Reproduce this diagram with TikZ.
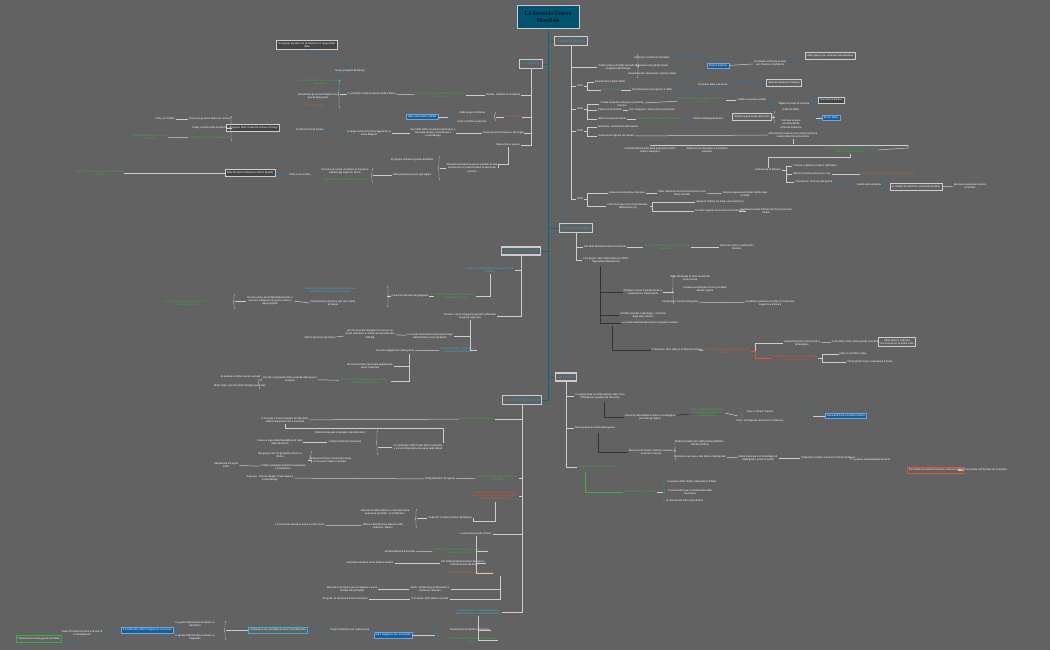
\documentclass[tikz,border=0pt]{standalone}
\usepackage{fontspec}
\setmainfont{Liberation Sans}
\newfontfamily\rootfont{Liberation Serif}
\usetikzlibrary{decorations.pathreplacing}
\definecolor{bg}{RGB}{98,98,98}
\definecolor{teal}{RGB}{0,84,112}
\definecolor{tealtx}{RGB}{40,150,195}
\definecolor{gtx}{RGB}{60,175,60}
\definecolor{rtx}{RGB}{225,85,45}
\definecolor{ctx}{RGB}{60,175,210}
\definecolor{bbox}{RGB}{16,96,168}
\definecolor{ln}{RGB}{205,205,205}
\definecolor{blc}{RGB}{40,110,155}
\tikzset{
 x=1pt,y=-1pt,
 every node/.style={inner sep=1pt,font=\fontsize{2.6}{3.1}\selectfont,align=center,text=white},
 g/.style={text=gtx},
 r/.style={text=rtx},
 c/.style={text=ctx},
 root/.style={fill=teal,draw=ln,line width=1pt,text=black,font=\rootfont\fontsize{6}{7}\selectfont,minimum width=62pt,minimum height=23pt},
 topic/.style={draw=ln,line width=1.1pt,fill=bg,text=tealtx,font=\fontsize{4}{4.6}\selectfont,inner sep=2.5pt},
 bb/.style={fill=bbox,draw=ln!60!bbox,text=white,inner sep=1.6pt},
 db/.style={fill=bg!70!black,draw=ln,line width=0.6pt,inner sep=2pt},
 lb/.style={draw=ln,line width=0.6pt,inner sep=2pt},
 e/.style={draw=ln,line width=0.5pt},
 eb/.style={draw=black!80,line width=0.6pt},
 sp/.style={draw=teal!80!ctx,line width=0.9pt},
 cu/.style={draw=blc,line width=0.5pt},
 br/.style={draw=ln,line width=0.4pt,decorate,decoration={brace,amplitude=2pt}},
}
\begin{document}
\begin{tikzpicture}
\fill[bg] (0,0) rectangle (1050,650);
\useasboundingbox (0,0) rectangle (1050,650);
% spine first
\coordinate (s) at (548,400);
\draw[sp] (548,28) -- (s) -- (508,400);
\draw[sp] (548,41) -- (560,41);
\draw[sp] (548,64) -- (535,64);
\draw[sp] (548,228) -- (560,228);
\draw[sp] (548,251) -- (535,251);
\draw[sp] (548,377) -- (560,377);
% root and topics
\node[root] (root) at (548,17) {La Seconda Guerra\\Mondiale};
\node[topic] (T1) at (571,41) {Verso la guerra};
\node[topic] (T2) at (531,64) {La guerra};
\node[topic] (T3) at (576,228) {Guerra parallela};
\node[topic] (T4) at (521,251) {Guerra nel Pacifico};
\node[topic] (T5) at (566,377) {La svolta};
\node[topic] (T6) at (522,400) {La fine della guerra};

% ---------- Verso la guerra
\node (v1) at (618,67) {Politica estera di Hitler prevede la\\conquista dell'Europa};
\node (v1a) at (652,58) {Eliminare i trattati di Versailles};
\node (v1b) at (652,66) {Creazione del grande Reich};
\node (v1c) at (652,74) {Conquista del Lebensraum (spazio vitale)};
\node[bb] (v1d) at (718,66) {Riarmo tedesco};
\node (v1e) at (770,63) {Inevitabile confronto armato\\con Francia e Inghilterra};
\node[lb] (v1f) at (830,56) {Hitler agisce con continue rivendicazioni};
\node (y35) at (580,86) {1935};
\node (v2) at (610,82) {Riunificazione della SAAR};
\node[g] (v3) at (611,90) {Fronte di Stresa};
\node (v3a) at (652,90) {Coordinamento per opporsi a Hitler};
\node (v3b) at (713,85) {Cessione delle sue azioni};
\node[lb] (v3c) at (784,83) {Italia accusata per l'Etiopia};
\node (y36) at (580,109) {1936};
\node (v4) at (622,104) {L'Italia conquista l'Etiopia e proclama\\l'impero};
\node[g] (v4a) at (702,100) {Francia e Inghilterra condannano l'Italia:\\sanzioni};
\node (v4b) at (752,100) {L'Italia si avvicina a Hitler};
\node (v4c) at (794,104) {Siglato accordo di amicizia};
\node[db] (v4d) at (831,100) {Asse Roma-Berlino};
\node (v5) at (610,110) {Patto anti Comintern};
\node (v5a) at (652,110) {Con Giappone: lotta contro comunismo};
\node (v6) at (612,119) {Hitler occupa la Renania};
\node[g] (v6a) at (658,119) {Non reazione di Francia e Inghilterra};
\node (v6b) at (708,119) {Politica dell'appeasement};
\node[lb] (v6c) at (752,117) {Evitare la guerra ad ogni costo};
\node (v6d) at (791,110) {Rafforzò Hitler};
\node (v6e) at (791,124) {Fermare la pace\\accontentando\\richieste tedesche};
\node[bb] (v6f) at (831,118) {Errore fatale};
\node (y38) at (580,131) {1938};
\node (v7) at (618,127) {Anschluss: annessione dell'Austria};
\node (v8) at (616,136) {Annessione regione dei Sudeti};
\node (v8a) at (793,135) {Allineamento tedesco che chiese nell'area\\sudeti della Cecoslovacchia};
\node (v8b) at (650,150) {Inammissibili tra tutte della popolazione dell'\\impero asburgico};
\node (v8c) at (707,150) {Molte risorse minerarie e importanti\\industrie};
\node[g] (v8d) at (850,150) {Ciò causa un'escalation di tensione; rischio di\\guerra tra le due nazioni};
\node (v9) at (768,170) {Conferenza di Monaco};
\node (v9a) at (815,166) {Francia, Inghilterra, Italia e Germania};
\node (v9b) at (812,174) {Ma la Cecoslovacchia non c'era};
\node[r] (v9c) at (888,174) {Gesto di debolezza per tutti i paesi democratici};
\node (v9d) at (814,182) {Condizione: rinuncia alla guerra};
\node (v9e) at (869,185) {Sudeti alla Germania};
\node[lb] (v9f) at (916,187) {In cambio di una firma: promessa di Hitler};
\node (v9g) at (970,186) {Ignorava annessioni ulteriori\\di territori};
\node (y39) at (580,199) {1939};
\node (v10) at (627,193) {Annessione Boemia e Moravia};
\node (v10a) at (682,193) {Hitler trasforma la Cecoslovacchia in uno\\Stato vassallo};
\node (v10b) at (745,194) {Ascesa espansiva di Hitler nell'Europa\\centrale};
\node (v11) at (628,206) {Patto d'acciaio (Con Patto Molotov-\\Ribbentrop (2))};
\node (v11a) at (720,202) {Alleanza militare tra Italia e Germania (1)};
\node (v11b) at (720,211) {Accordo segreto tra Russia e Germania (2)};
\node (v11c) at (766,211) {Germania invade Polonia da Ovest e Russia\\da Est};
\draw[e] (T1.south) |- (v1.west); \draw[e] (T1.south) |- (y35.west); \draw[e] (T1.south) |- (y36.west);
\draw[e] (T1.south) |- (y38.west); \draw[e] (T1.south) |- (y39.west);
\draw[br] (637,54) -- (637,78); \draw[e] (v1.east) -- (637,66);
\draw[cu] (v1a.east) .. controls (705,55) .. (v1d.north west); \draw[cu] (v1c.east) .. controls (705,77) .. (v1d.south west);
\draw[e] (v1d) -- (v1e); \draw[cu] (v1e.east) .. controls (800,60) .. (v1f.south west);
\draw[e] (y35.east) -- ++(3,0) |- (v2.west); \draw[e] (y35.east) -- ++(3,0) |- (v3.west);
\draw[e] (v3) -- (v3a); \draw[cu] (v3a.east) .. controls (720,92) and (730,86) .. (v3b.east); \draw[cu] (v3b.east) .. controls (745,80) .. (v3c.west);
\draw[e] (y36.east) -- ++(3,0) |- (v4.west); \draw[e] (y36.east) -- ++(3,0) |- (v5.west); \draw[e] (y36.east) -- ++(3,0) |- (v6.west);
\draw[e] (v4) -- (v4a); \draw[e] (v4a) -- (v4b); \draw[cu] (v4b.east) .. controls (770,108) .. (v4c.west); \draw[cu] (v4c.east) .. controls (810,95) .. (v4d.north);
\draw[e] (v5) -- (v5a); \draw[e] (v6) -- (v6a); \draw[cu] (v6a.east) .. controls (690,125) .. (v6b.west); \draw[cu] (v6b.east) .. controls (725,118) .. (v6c.west);
\draw[br] (775,123) -- (775,111); \draw[e] (v6c.east) -- (775,117);
\draw[cu] (812,104) .. controls (818,110) and (818,126) .. (812,131); \draw[e] (816,118) -- (v6f.west);
\draw[e] (y38.east) -- ++(3,0) |- (v7.west); \draw[e] (y38.east) -- ++(3,0) |- (v8.west);
\draw[e] (v8.east) -- (v8a.west);
\draw[e] (v8a.south) -- ++(0,5);
\draw[e] (650,145) -- (908,145); \draw[e] (v8b.north) -- (650,145); \draw[e] (v8c.north) -- (707,145); \draw[e] (908,145) -- (908,148) -- (v8d.east);
\draw[e] (v8d.south) -- ++(0,3) -| (v9.north);
\draw[e] (v9.east) -- ++(4,0) |- (v9a.west); \draw[e] (v9.east) -- ++(4,0) |- (v9b.west); \draw[e] (v9.east) -- ++(4,0) |- (v9d.west);
\draw[e] (v9b) -- (v9c); \draw[cu] (v9d.east) .. controls (845,188) .. (v9e.west); \draw[cu] (v9e.east) .. controls (880,180) .. (v9f.north west); \draw[e] (v9f) -- (v9g);
\draw[e] (y39.east) -- ++(3,0) |- (v10.west); \draw[e] (y39.east) -- ++(3,0) |- (v11.west);
\draw[e] (v10) -- (v10a); \draw[e] (v10a) -- (v10b);
\draw[e] (v11.east) -- ++(3,0) |- (v11a.west); \draw[e] (v11.east) -- ++(3,0) |- (v11b.west); \draw[e] (v11b) -- (v11c);

% ---------- La guerra
\node (g1) at (503,95) {Polonia: obiettivo di invasione};
\node[g] (g1a) at (440,95) {Inghilterra e Francia dichiarano guerra alla\\Germania};
\node (g1b) at (372,94) {1 settembre 1939 invasione della Polonia};
\node[g] (g1c) at (320,82) {Mussolini dichiara la non belligeranza\\dell'Italia};
\node (g1d) at (318,96) {Nonostante gli accordi l'Italia non è\\pronta alla guerra};
\node[r] (g1e) at (315,106) {URSS neutrale};
\node (g1f) at (350,71) {Nuovo progetto Blitzkrieg};
\node[db] (g1g) at (307,45) {Si oppone al patto con la Polonia e lo ruppe Hitler\\Italia};
\node[r] (g2) at (513,117) {Guerra lampo};
\node (g2a) at (472,113) {Stallo lungo in Polonia};
\node (g2b) at (472,122) {Crani sacrificio sovietiche};
\node[bb] (g2c) at (422,117) {Hitler sottovaluta l'URSS};
\node (g3) at (503,133) {Invasione di Danimarca e Norvegia};
\node (g3a) at (433,133) {Nel 1940 Hitler conquista Danimarca e\\Norvegia, Belgio, Paesi Bassi e\\Lussemburgo};
\node (g3b) at (369,133) {Si dirige verso la Francia aggirando la\\Linea Maginot};
\node (g3c) at (310,130) {Direttiva il fronte Sedan};
\node[db] (g3d) at (253,128) {14 giugno 1940 i tedeschi entrano a Parigi};
\node (g3e) at (210,119) {Diviso un governo fantoccio nel sud};
\node (g3f) at (210,128) {Parigi a nome sotto il tedeschi};
\node[g] (g3g) at (210,138) {Guida del governo collaborazionista};
\node (g3h) at (165,119) {Vichy con Pétain};
\node[g] (g3i) at (150,137) {De Gaulle guida la resistenza\\da Londra};
\node (g4) at (508,145) {Italia entra in guerra};
\node (g4a) at (472,168) {Mussolini pensava la guerra sarebbe durata\\ancora poco e voleva sedere al tavolo dei\\vincitori};
\node (g4b) at (412,160) {10 giugno entrata in guerra dell'Italia};
\node (g4c) at (412,175) {Hitler proponeva pace agli inglesi};
\node (g4d) at (345,171) {Pensava di creare un impero in Europa e\\battere agli inglesi in Africa};
\node[g] (g4e) at (345,180) {L'Italia dipendeva dal sostegno tedesco};
\node (g4f) at (300,175) {Piano Luce mistico};
\node[db] (g4g) at (250,173) {Attacchi senza efficacia in Africa (Egitto)};
\node[g] (g4h) at (100,173) {Gli inglesi respingono gli attacchi italiani\\in Egitto};
\draw[e] (T2.south) |- (g1.east); \draw[e] (T2.south) |- (g2.east); \draw[e] (T2.south) |- (g3.east); \draw[e] (T2.south) |- (g4.east);
\draw[e] (g1) -- (g1a); \draw[e] (g1a) -- (g1b);
\draw[br] (340,108) -- (340,80); \draw[e] (g1b.west) -- (340,94);
\draw[cu] (g1b.north west) .. controls (330,80) .. (g1f.south); \draw[cu] (g1f.north) .. controls (340,60) and (320,55) .. (g1g.south);
\draw[br] (496,121) -- (496,112); \draw[e] (g2.west) -- (496,117);
\draw[cu] (452,110) .. controls (446,114) and (446,120) .. (452,125); \draw[e] (448,117) -- (g2c.east);
\draw[e] (g3) -- (g3a); \draw[e] (g3a) -- (g3b); \draw[cu] (g3b.west) .. controls (335,130) .. (g3c.east); \draw[cu] (g3c.west) .. controls (285,128) .. (g3d.east);
\draw[br] (232,141) -- (232,116); \draw[e] (g3d.west) -- (232,128);
\draw[e] (g3e) -- (g3h); \draw[e] (g3g) -- (g3i);
\draw[e] (g4.south) -- ++(0,17) -| (g4a.east);
\draw[br] (440,180) -- (440,156); \draw[e] (g4a.west) -- (440,168);
\draw[br] (373,183) -- (373,168); \draw[e] (g4c.west) -- (373,175);
\draw[cu] (g4e.west) .. controls (320,181) .. (g4f.east); \draw[cu] (g4f.west) .. controls (280,176) .. (g4g.east); \draw[e] (g4g) -- (g4h);

% ---------- Guerra parallela
\node (p1) at (605,247) {Nel 1940 Mussolini attacca la Grecia};
\node[g] (p1a) at (667,247) {Operazione fallita per l'esercito italiano;\\aiuti di Hitler};
\node (p1b) at (737,247) {Hitler interviene e sottomette i\\Balcani};
\node (p2) at (606,260) {Il 22 giugno 1941 Hitler attacca l'URSS:\\Operazione Barbarossa};
\node (p3) at (643,292) {Obiettivo creare il grande Reich e\\conquistare il Lebensraum};
\node (p3a) at (690,278) {Hitler sfruttando le forze sovietiche\\come risorse};
\node (p3b) at (705,289) {Puntava ad eliminare l'unico possibile\\alleato inglese};
\node (p3c) at (680,302) {Conquistare risorse strategiche};
\node (p3d) at (770,303) {Avrebbero permesso a Hitler di continuare\\la guerra a oltranza};
\node (p4) at (643,315) {Conflitto razziale e ideologico, sterminio\\degli slavi inferiori};
\node (p5) at (650,323) {Lo scontro dell'Armata rossa e il popolo sovietico};
\node (p6) at (677,350) {6 dicembre 1941 attacco di Mosca e Mosca};
\node[r] (p6a) at (725,351) {Gelo, l'esercito tedesco non era pronto per\\l'inverno};
\node (p6b) at (802,343) {I tedeschi persero rifornimenti e\\attrezzature};
\node (p6c) at (855,342) {A dicembre 1941 prima grande sconfitta};
\node[lb] (p6d) at (897,342) {Hitler attacca a Mosca\\che resiste per la prima volta};
\node[r] (p6e) at (795,358) {Nell'URSS un attacco di una leggenda\\e la grande resistenza};
\node (p6f) at (853,354) {Hitler è sconfitto e ritira};
\node (p6g) at (870,362) {Infiniti gli sforzi per conquistare il fronte};
\draw[e] (T3.south) |- (p1.west); \draw[e] (T3.south) |- (p2.west);
\draw[e] (p1) -- (p1a); \draw[e] (p1a) -- (p1b);
\draw[eb] (600,266) -- (600,323);
\draw[eb] (600,268) |- (p3.west); \draw[eb] (600,268) |- (p4.west); \draw[eb] (600,268) |- (p5.west);
\draw[eb] (612,326) |- (p6.west);
\draw[br] (674,304) -- (674,276); \draw[e] (p3.east) -- (674,292);
\draw[e] (p3c) -- (p3d);
\draw[e] (p6) -- (p6a);
\draw[e] (p6a.east) -- ++(4,0) |- (p6b.west); \draw[e, draw=rtx] (p6a.east) -- ++(4,0) |- (p6e.west);
\draw[e] (p6b) -- (p6c); \draw[e] (p6c) -- (p6d);
\draw[e] (p6e.east) -- ++(4,0) |- (p6f.west); \draw[e] (p6e.east) -- ++(4,0) |- (p6g.west);

% ---------- Pacifico
\node[c] (q1) at (490,270) {Giappone attua politica di espansione nel\\Pacifico};
\node[g] (q1a) at (455,296) {Stati Uniti sanzionano e prelevano\\il Giappone: petrolio};
\node (q1b) at (410,296) {Cause la reazione del giappone};
\node[c] (q1c) at (330,290) {7 dicembre 1941 bombardamento a sorpresa\\alla flotta americana a Pearl Harbor};
\node (q1d) at (333,303) {Dichiarazione di guerra agli Usa contro\\gli alleati};
\node (q1e) at (270,301) {Gli Usa erano usciti dall'isolazionismo e\\avevano intrapreso la guerra a fianco\\degli anglofili};
\node[g] (q1f) at (185,303) {Gli Usa entrano in guerra con armi e\\rifornimenti agli alleati};
\node (q2) at (470,316) {Tensioni: Usa e Giappone avevano affrontato\\la guerra negli Usa};
\node (q2a) at (430,336) {Le risorse statunitensi spostavano l'ago\\della bilancia verso gli alleati};
\node (q2b) at (370,334) {Gli Usa avevano bisogno di crescere un\\senso patriottico in modo da massimizzare\\l'attività};
\node (q2c) at (320,338) {Ultima speranza per l'Asse};
\node (q3) at (395,351) {Successi giapponesi nella guerra};
\node[c] (q3a) at (458,350) {Sconfitta Pacifico: i giapponesi\\conquistano molti territori};
\node (q3b) at (370,366) {Gli Usa fermano l'avanzata giapponese\\verso l'Australia};
\node[g] (q3c) at (365,381) {Gli Usa vincono la battaglia delle Midway e\\riconquistano il Pacifico};
\node (q3d) at (290,379) {Più che una guerra simile a quella della guerra\\europea};
\node (q3e) at (240,377) {Si basava su flotte navali e aeree};
\node (q3f) at (240,386) {Molte isole e piccoli atolli strategici particolari};
\draw[e] (T4.south) |- (q2.east);
\draw[e] (T4.south) |- (q1.east);
\draw[e] (q1.south) |- (q1a.east);
\draw[e] (q1a) -- (q1b);
\draw[br] (387,286) -- (387,307); \draw[e] (q1b.west) -- (387,296);
\draw[e] (q1d.west) -- (q1e.east);
\draw[br] (235,309) -- (235,294); \draw[e] (q1e.west) -- (235,301);
\draw[e] (q2.south) |- (q3a.east); \draw[e] (q2.south) |- (q2a.east);
\draw[e] (q2a) -- (q2b); \draw[e] (q2b) -- (q2c);
\draw[e] (q3a) -- (q3);
\draw[e] (409,354) -- (409,381) -- (q3c.east); \draw[e] (409,366) -- (q3b.east);
\draw[e] (q3c) -- (q3d);
\draw[br] (260,389) -- (260,375); \draw[e] (q3d.west) -- (260,381);

% ---------- La svolta
\node (s1) at (600,396) {A seguito delle sconfitte italiane Hitler invia\\l'Afrikakorps (guidato da Rommel)};
\node (s1a) at (650,417) {L'esercito italo-tedesco riesce a sconfiggere\\più volte gli inglesi};
\node[g] (s1b) at (707,413) {Presa di Alamein gli inglesi in\\Africa fermano i tedeschi e\\italiani in Egitto};
\node (s1c) at (760,412) {Asse si ritira in Tunisia};
\node (s1d) at (760,421) {Primo contingente americano in Marocco};
\node[bb] (s1e) at (846,416) {Resa dell'Asse sconfitta in Africa};
\node (s2) at (595,428) {Russia punto di svolta della guerra};
\node (s2a) at (651,452) {Nel corso di vittorie i tedeschi avevano\\esaurito le risorse};
\node (s2b) at (700,443) {Tedeschi attaccano dall'Ucraina ARMIR e\\Armata d'Africa};
\node (s2c) at (700,457) {Resistenza ai russi e alla fame a Stalingrado};
\node (s2d) at (758,458) {Morte intensiva con la battaglia di\\Stalingrado, punto di svolta};
\node (s2e) at (828,458) {I tedeschi uccidono e persero il fronte di Mosca};
\node (s2f) at (870,460) {Rivoluzione nella battaglia di Kursk};
\node[lb,draw=rtx] (s2g) at (935,470) {Tre milioni di sovietici morirono, vittoria russa};
\node (s2h) at (983,470) {Inizia l'avanzata dell'Armata verso Berlino};
\node[g] (s3) at (597,467) {Armistizio di Cassibile e Badoglio};
\node[g] (s3a) at (640,492) {Gli alleati sbarcano in Sicilia};
\node (s3b) at (692,482) {Invasione della Sicilia e liberazione d'Italia};
\node (s3c) at (690,492) {Si punta alla resa incondizionata della\\Germania};
\node (s3d) at (685,501) {Si discute del futuro post bellico};
\draw[e] (T5.south) |- (s1.west); \draw[e] (T5.south) |- (s2.west); \draw[e] (T5.south) |- (s3.west);
\draw[eb] (604,402) |- (s1a.west); \draw[eb] (s1a) -- (s1b);
\draw[br,draw=gtx] (740,407) -- (740,424) ; \draw[e] (s1b.east) -- (738,416);
\draw[cu] (810,407) .. controls (815,412) and (815,420) .. (810,425); \draw[e] (813,416) -- (s1e.west);
\draw[eb] (598,433) |- (s2a.west);
\draw[br] (676,460) -- (676,440); \draw[e] (s2a.east) -- (676,450);
\draw[e] (s2c) -- (s2d); \draw[e] (s2d) -- (s2e); \draw[cu] (s2e.east) .. controls (850,460) .. (s2f.west); \draw[cu] (s2f.east) .. controls (905,465) .. (s2g.north west); \draw[e] (s2g) -- (s2h);
\draw[e,draw=gtx] (585,472) |- (s3a.west);
\draw[br,draw=gtx] (663,479) -- (663,504); \draw[e] (s3a.east) -- (663,492);

% ---------- La fine
\node[g] (f1) at (477,419) {25 luglio caduta del fascismo};
\node (f1a) at (285,420) {Il 25 luglio il Gran Consiglio del fascismo\\sfiducia Mussolini che è arrestato};
\node (f2) at (418,447) {L'8 settembre 1943 l'Italia firma l'armistizio\\e inizia la liberazione da parte degli alleati};
\node (f2a) at (340,433) {Vittorio Emanuele e Badoglio alle dimissioni};
\node (f2b) at (345,442) {I tedeschi liberano Mussolini};
\node (f2c) at (280,442) {Nasce a capo della Repubblica di Salò\\Stato fantoccio};
\node (f2d) at (330,460) {I tedeschi formano composta nazista\\a occupare l'Italia e resistere};
\node (f2e) at (280,455) {Nel giugno del '44 gli alleati entrano a\\Roma};
\node (f2f) at (283,467) {In Italia i partigiani tedeschi resistevano\\e combattono};
\node (f2g) at (226,465) {Liberazione 25 aprile\\1945};
\node (f3) at (440,479) {Parigi liberata il 25 agosto};
\node (f3a) at (270,478) {Seguono: Francia, Belgio, Paesi Bassi e\\Lussemburgo};
\node[g] (f3b) at (497,478) {6 giugno 1944 gli alleati sbarcano in\\Normandia};
\node[r] (f4) at (495,496) {L'Armata Rossa respinge i tedeschi\\dall'Ucraina e dalla Polonia; Romania e\\Bulgaria cambiano fronte};
\node (f4a) at (450,518) {I tedeschi si ritirano anche dai Balcani};
\node (f4b) at (385,512) {Attentati di Hitler fallirono e l'Armata rossa\\avanzava per Hitler: era fallimento};
\node (f4c) at (383,526) {Ultima controffensiva tedesca nelle\\Ardenne: fallisce};
\node (f4d) at (300,525) {La Germania lavorava ormai su tutti i fronti};
\node (f5) at (476,534) {La Germania è allo stremo};
\node (f5a) at (400,552) {Bombardamenti di Dresda};
\node[g] (f5b) at (460,551) {Bombardamenti degli alleati su città tedesche,\\migliaia di vittime civili};
\node (f5c) at (370,563) {Avanzata sovietica verso Berlino dall'Est};
\node (f5d) at (463,563) {Dal 1945 gli alleati entrano da ovest e\\l'Armata Rossa da Est};
\node[r] (f5e) at (470,573) {Il 25 aprile la Resistenza libera Milano};
\node (f5f) at (352,589) {Mussolini non riesce più a scappare e viene\\fucilato dai partigiani};
\node (f5g) at (430,589) {Aprile: tentata fuga di Mussolini in\\Svizzera, catturato};
\node (f5h) at (345,599) {30 aprile: la Germania firma l'armistizio};
\node (f5i) at (430,599) {Il 30 aprile 1945 Hitler si suicida};
\node[c] (f6) at (478,612) {Il Giappone non si arrende alla resa\\della Germania e combatte nel Pacifico};
\node (f6a) at (470,630) {Nessuna forza resiste sul Pacifico};
\node[g] (f6b) at (472,640) {Gli Usa preparano l'invasione del Giappone\\via terra};
\node[bb] (f6c) at (393,635) {Ma il Giappone non si arrende};
\node (f6d) at (350,630) {Dopo Hiroshima non cede la resa};
\node[lb,draw=ctx] (f6e) at (278,630) {Continua a non accettare la resa incondizionata};
\node (f6f) at (195,624) {6 agosto 1945 bomba nucleare su\\Hiroshima};
\node (f6g) at (195,637) {9 agosto 1945 bomba nucleare su\\Nagasaki};
\node[bb] (f6h) at (147,630) {Il 2 settembre 1945 il Giappone si arrende};
\node (f6i) at (82,633) {Dopo 55 milioni di morti e la scia di\\sconvolgimenti};
\node[lb,draw=gtx] (f6j) at (39,639) {Finisce la seconda guerra mondiale};
\draw[e] (T6.south) |- (f1.east); \draw[e] (T6.south) |- (f3b.east); \draw[e] (T6.south) |- (f4.east);
\draw[e] (T6.south) |- (f5.east);
\draw[e] (T6.south) |- (f6.east);
\draw[e] (f1) -- (f1a); \draw[e] (f1a.south) -- ++(0,5) -| (f2.north east);
\draw[br] (378,455) -- (378,430); \draw[e] (f2.west) -- (378,447);
\draw[e] (f2b) -- (f2c);
\draw[br] (312,463) -- (312,451); \draw[e] (f2d.west) -- (312,460); \draw[e] (f2f) -- (f2g);
\draw[e] (f3b) -- (f3); \draw[e] (f3) -- (f3a);
\draw[e] (f4.south) -- ++(0,20) -| (f4a.east);
\draw[br] (417,528) -- (417,509); \draw[e] (f4a.west) -- (417,518); \draw[e] (f4c) -- (f4d);
\draw[e] (f5.south) |- (f5b.east); \draw[e] (f5.south) |- (f5d.east); \draw[e] (f5.south) |- (f5e.east);
\draw[e] (f5a) -- (f5b); \draw[e] (f5c) -- (f5d);
\draw[e] (500,576) -- (500,599) -- (f5i.east);
\draw[e] (500,589) -- (f5g.east); \draw[e] (f5g) -- (f5f); \draw[e] (f5i) -- (f5h);
\draw[e] (f6.south) |- (f6a.east); \draw[e] (f6.south) |- (f6b.east);
\draw[cu] (438,624) .. controls (432,630) and (432,642) .. (438,648); \draw[e] (f6c.east) -- (435,635);
\draw[cu] (f6c.west) .. controls (375,630) .. (f6d.east); \draw[cu] (f6d.west) .. controls (325,626) .. (f6e.east);
\draw[br] (226,640) -- (226,621); \draw[e] (f6e.west) -- (226,630);
\draw[cu] (181,618) .. controls (176,625) and (176,640) .. (181,645);
\draw[cu] (f6h.west) .. controls (110,628) .. (f6i.east); \draw[cu] (f6i.south) .. controls (80,645) .. (f6j.east);
\end{tikzpicture}
\end{document}
